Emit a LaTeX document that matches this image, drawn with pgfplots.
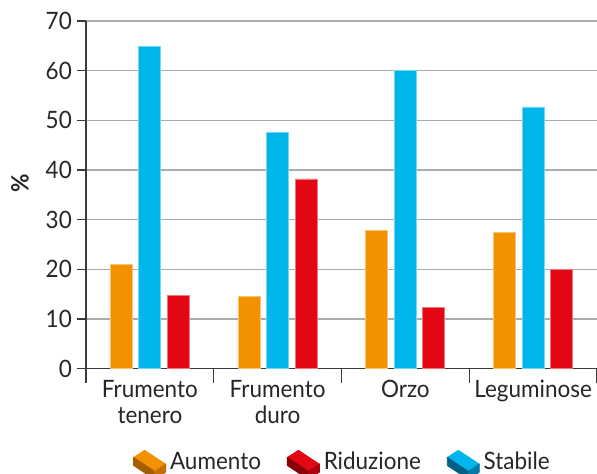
\documentclass[border=0pt]{standalone}
\usepackage{pgfplots}
\pgfplotsset{compat=1.18}
\usepackage{fontspec}
\setmainfont{Lato}[FakeStretch=0.94]
\definecolor{aum}{HTML}{F39200}
\definecolor{aumL}{HTML}{A65C00}
\definecolor{aumR}{HTML}{C46F00}
\definecolor{rid}{HTML}{E30613}
\definecolor{ridL}{HTML}{8A0008}
\definecolor{ridR}{HTML}{A8000E}
\definecolor{sta}{HTML}{00B5EC}
\definecolor{staL}{HTML}{005F86}
\definecolor{staR}{HTML}{0079A8}
\definecolor{txt}{HTML}{262626}
\definecolor{gridc}{HTML}{ABABAB}
\definecolor{axc}{HTML}{3A3A3A}
\newcommand{\lblfont}{\fontsize{24}{27}\selectfont\color{txt}}
\begin{document}
\begin{tikzpicture}
\useasboundingbox (-86bp,-105.3bp) rectangle (511bp,368.7bp);
\begin{axis}[
  at={(0,0)}, anchor=south west,
  scale only axis, width=511bp, height=347.7bp,
  xmin=0, xmax=4, ymin=0, ymax=70,
  separate axis lines,
  axis x line*=bottom, axis y line*=left,
  axis line style={-, draw=axc, line width=1.2bp},
  tick align=outside,
  ytick={0,10,...,70},
  ymajorgrids, grid style={draw=gridc, line width=1.2bp},
  major tick length=9bp,
  minor tick length=14bp,
  y tick style={draw=axc, line width=1.2bp},
  xtick={0.5,1.5,2.5,3.5},
  xticklabels={{Frumento\\tenero},{Frumento\\duro},{Orzo},{Leguminose}},
  minor xtick={0,1,2,3,4},
  major x tick style={draw=none},
  minor x tick style={draw=axc, line width=1.2bp},
  x tick label style={font=\lblfont, align=center, inner sep=0pt, yshift=-2bp},
  y tick label style={font=\lblfont, inner sep=0pt, xshift=-5bp},
  /pgf/number format/assume math mode=true,
  ylabel={\bfseries\%},
  ylabel style={at={(axis description cs:-0.129,0.534)}, anchor=center, font=\lblfont},
  legend columns=3,
  legend style={at={(axis description cs:0.5,0)}, anchor=north, yshift=-81bp,
    draw=none, fill=none, font=\lblfont, inner sep=0pt,
    nodes={inner sep=0pt, anchor=base west},
    /tikz/every odd column/.append style={column sep=4bp},
    /tikz/every even column/.append style={column sep=26bp}},
]
\addplot[ybar, bar width=22bp, bar shift=-28.5bp, fill=aum, draw=aum!55!white, line width=0.8bp,
  legend image code/.code={
    \path (0bp,-18bp);
    \fill[aum] (0bp,12bp) -- (11bp,19.2bp) -- (32bp,5.3bp) -- (21bp,-1.9bp) -- cycle;
    \fill[aumL] (0bp,12bp) -- (21bp,-1.9bp) -- (21bp,-9.9bp) -- (0bp,4bp) -- cycle;
    \fill[aumR] (21bp,-1.9bp) -- (32bp,5.3bp) -- (32bp,-2.7bp) -- (21bp,-9.9bp) -- cycle;
  }]
  coordinates {(0.5,20.9) (1.5,14.5) (2.5,27.8) (3.5,27.5)};
\addlegendentry{Aumento}
\addplot[ybar, bar width=22bp, bar shift=28.5bp, fill=rid, draw=rid!55!white, line width=0.8bp,
  legend image code/.code={
    \path (0bp,-18bp);
    \fill[rid] (0bp,12bp) -- (11bp,19.2bp) -- (32bp,5.3bp) -- (21bp,-1.9bp) -- cycle;
    \fill[ridL] (0bp,12bp) -- (21bp,-1.9bp) -- (21bp,-9.9bp) -- (0bp,4bp) -- cycle;
    \fill[ridR] (21bp,-1.9bp) -- (32bp,5.3bp) -- (32bp,-2.7bp) -- (21bp,-9.9bp) -- cycle;
  }]
  coordinates {(0.5,14.7) (1.5,38.2) (2.5,12.4) (3.5,20.0)};
\addlegendentry{Riduzione}
\addplot[ybar, bar width=22bp, bar shift=0bp, fill=sta, draw=sta!55!white, line width=0.8bp,
  legend image code/.code={
    \path (0bp,-18bp);
    \fill[sta] (0bp,12bp) -- (11bp,19.2bp) -- (32bp,5.3bp) -- (21bp,-1.9bp) -- cycle;
    \fill[staL] (0bp,12bp) -- (21bp,-1.9bp) -- (21bp,-9.9bp) -- (0bp,4bp) -- cycle;
    \fill[staR] (21bp,-1.9bp) -- (32bp,5.3bp) -- (32bp,-2.7bp) -- (21bp,-9.9bp) -- cycle;
  }]
  coordinates {(0.5,64.8) (1.5,47.5) (2.5,60.0) (3.5,52.7)};
\addlegendentry{Stabile}
\end{axis}
\end{tikzpicture}
\end{document}
